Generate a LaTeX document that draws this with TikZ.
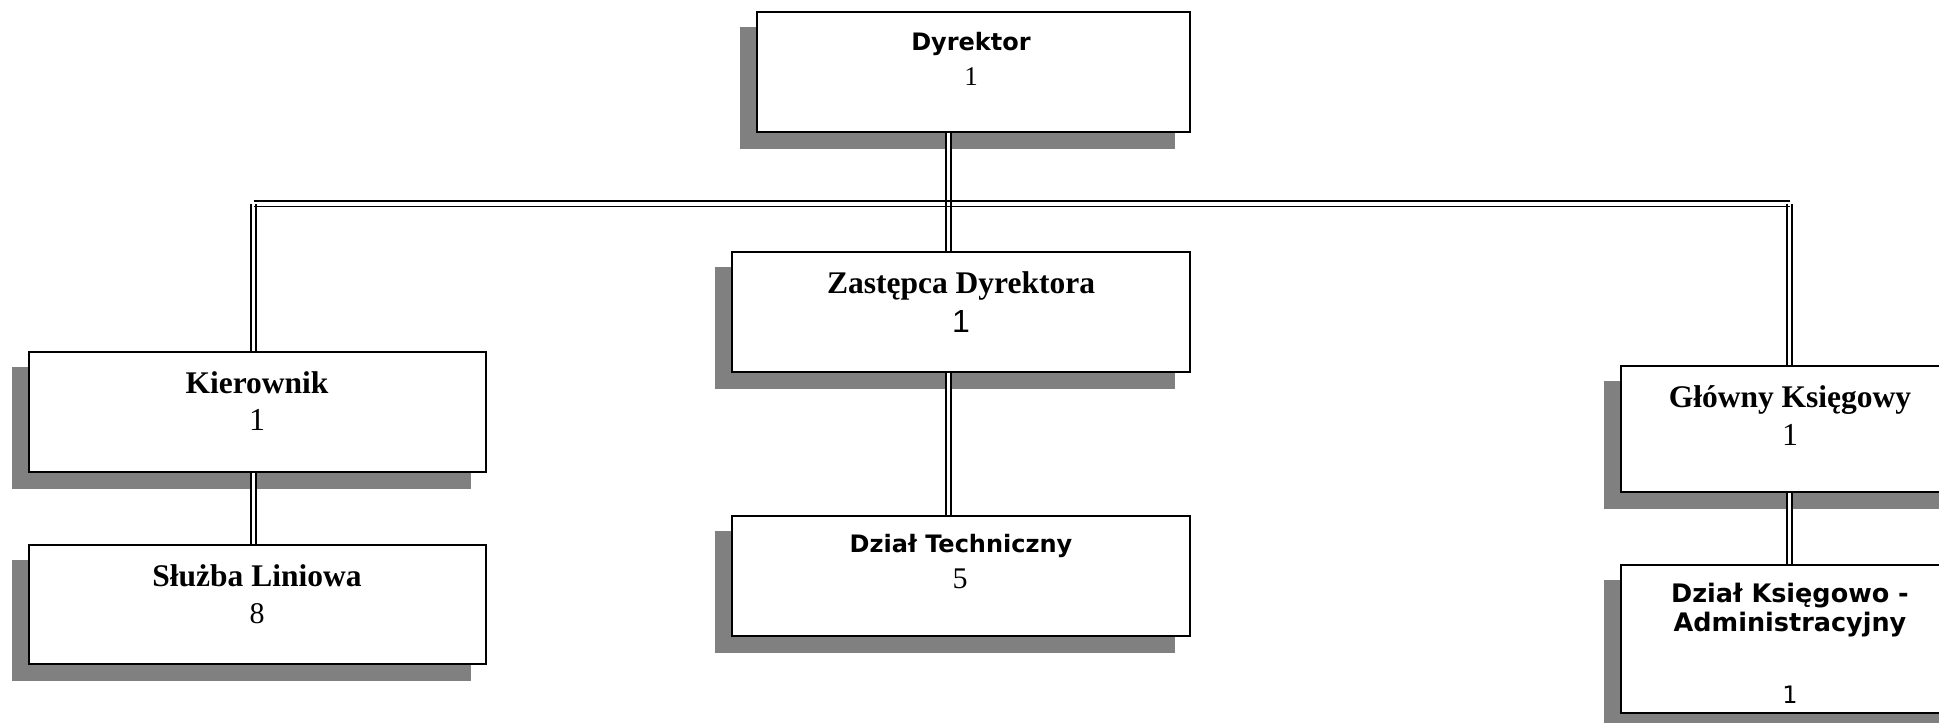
\documentclass[tikz,border=0pt]{standalone}
\usepackage{fontspec}
\newfontfamily\dvs{DejaVu Sans}
\newfontfamily\lser{Liberation Serif}
\newfontfamily\lsans{Liberation Sans}
\pgfdeclarelayer{shadowlayer}
\pgfdeclarelayer{linklayer}
\pgfsetlayers{shadowlayer,linklayer,main}
\definecolor{shadowgray}{RGB}{128,128,128}
\tikzset{
  box/.style={draw=black, line width=2, fill=white, rectangle, inner sep=0},
  shadowfill/.style={fill=shadowgray},
  linkbg/.style={draw=white, line width=4},
  linkln/.style={draw=black, line width=1.8},
  ttlsans/.style={font=\dvs\bfseries\fontsize{24}{28}\selectfont, anchor=base, inner sep=0},
  ttlserif/.style={font=\lser\bfseries\fontsize{31.5}{36}\selectfont, anchor=base, inner sep=0},
  numserif/.style={anchor=base, inner sep=0},
}
\begin{document}
\begin{tikzpicture}[x=1pt,y=-1pt]
\useasboundingbox (0,0) rectangle (1939,723);
\clip (0,0) rectangle (1939,723);
% boxes
\node[box, minimum width=433, minimum height=120] (D) at (973.5,72) {};
\node[box, minimum width=458, minimum height=120] (Z) at (961,312) {};
\node[box, minimum width=458, minimum height=120] (T) at (961,576) {};
\node[box, minimum width=457, minimum height=120] (K) at (257.5,412) {};
\node[box, minimum width=457, minimum height=119] (S) at (257.5,604.5) {};
\node[box, minimum width=354, minimum height=126] (G) at (1798,429) {};
\node[box, minimum width=354, minimum height=148] (A) at (1798,639) {};
% shadows
\begin{pgfonlayer}{shadowlayer}
\foreach \n in {D,Z,T,K,S,G,A}{
  \fill[shadowfill] ([shift={(-16,16)}]\n.north west) rectangle ([shift={(-16,16)}]\n.south east);
}
\end{pgfonlayer}
% junction coordinates
\coordinate (jl) at (253.5,203.7);
\coordinate (jm) at (948.5,203.7);
\coordinate (jr) at (1789.5,203.7);
% connectors
\begin{pgfonlayer}{linklayer}
\draw[linkbg] (D.south -| jm) -- (Z.north -| jm);
\draw[linkbg] (Z.south -| jm) -- (T.north -| jm);
\draw[linkbg] (jl) -- (K.north -| jl);
\draw[linkbg] (K.south -| jl) -- (S.north -| jl);
\draw[linkbg] (jr) -- (G.north -| jr);
\draw[linkbg] (G.south -| jr) -- (A.north -| jr);
\draw[linkbg] (jl) -- (jr);
\foreach \s in {-2.7,2.7}{
  \draw[linkln, transform canvas={xshift=\s}] (D.south -| jm) -- (Z.north -| jm);
  \draw[linkln, transform canvas={xshift=\s}] (Z.south -| jm) -- (T.north -| jm);
  \draw[linkln, transform canvas={xshift=\s}] (jl) -- (K.north -| jl);
  \draw[linkln, transform canvas={xshift=\s}] (K.south -| jl) -- (S.north -| jl);
  \draw[linkln, transform canvas={xshift=\s}] (jr) -- (G.north -| jr);
  \draw[linkln, transform canvas={xshift=\s}] (G.south -| jr) -- (A.north -| jr);
  \draw[linkln, transform canvas={yshift=\s}] (jl) -- (jr);
}
\end{pgfonlayer}
% texts
\node[ttlsans] (Dt1) at (971,50) {Dyrektor};
\node[numserif, font=\lser\fontsize{27}{30}\selectfont] (Dt2) at (971,85) {1};
\node[ttlserif] (Zt1) at (961,293) {Zastępca Dyrektora};
\node[numserif, font=\lsans\fontsize{32}{36}\selectfont] (Zt2) at (961,332) {1};
\node[ttlsans] (Tt1) at (961,552) {Dział Techniczny};
\node[numserif, font=\lser\fontsize{30}{34}\selectfont] (Tt2) at (960,588) {5};
\node[ttlserif] (Kt1) at (257,393) {Kierownik};
\node[numserif, font=\lser\fontsize{32}{36}\selectfont] (Kt2) at (257,430) {1};
\node[ttlserif] (St1) at (257,586) {Służba Liniowa};
\node[numserif, font=\lser\fontsize{30}{34}\selectfont] (St2) at (257,623) {8};
\node[ttlserif] (Gt1) at (1790,407) {Główny Księgowy};
\node[numserif, font=\lser\fontsize{32}{36}\selectfont] (Gt2) at (1790,445) {1};
\node[ttlsans, font=\dvs\bfseries\fontsize{25.5}{30}\selectfont] (At1) at (1790,602) {Dział Księgowo -};
\node[ttlsans, font=\dvs\bfseries\fontsize{25.5}{30}\selectfont] (At2) at (1790,631) {Administracyjny};
\node[numserif, font=\dvs\fontsize{24}{28}\selectfont] (At3) at (1790,703) {1};
\end{tikzpicture}
\end{document}
